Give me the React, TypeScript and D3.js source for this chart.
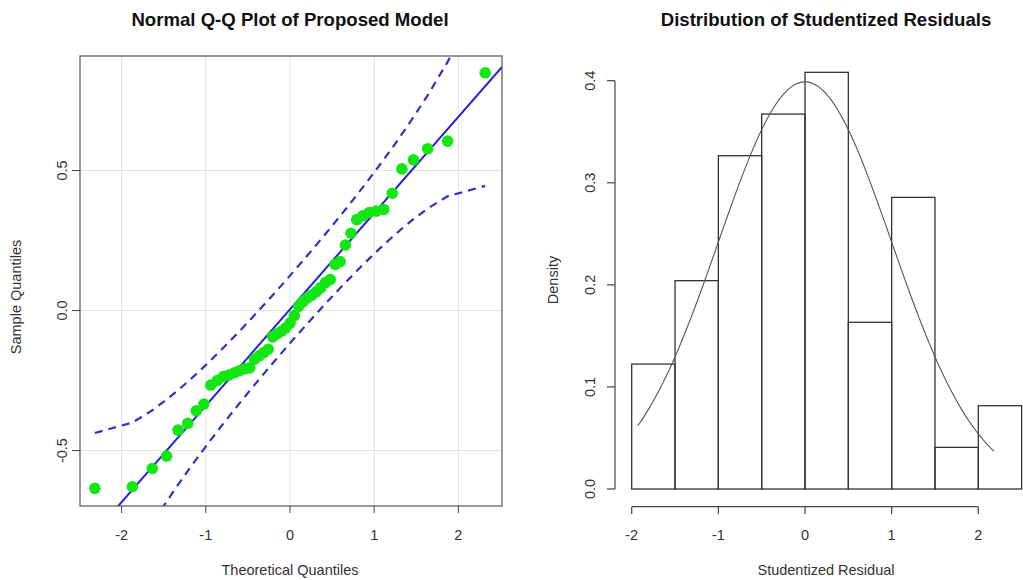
import React from "react";
import * as d3 from "d3";

// Theoretical normal quantiles (n = 49, ppoints)
const theoretical = [
  -2.318, -1.872, -1.635, -1.466, -1.329, -1.215, -1.114, -1.023, -0.941, -0.864,
  -0.792, -0.724, -0.658, -0.596, -0.536, -0.478, -0.421, -0.366, -0.312, -0.259,
  -0.206, -0.154, -0.102, -0.051, 0.0, 0.051, 0.102, 0.154, 0.206, 0.259,
  0.312, 0.366, 0.421, 0.478, 0.536, 0.596, 0.658, 0.724, 0.792, 0.864,
  0.941, 1.023, 1.114, 1.215, 1.329, 1.466, 1.635, 1.872, 2.318,
];
// Sorted sample quantiles
const sample = [
  -0.635, -0.629, -0.564, -0.52, -0.427, -0.403, -0.358, -0.334, -0.266, -0.25,
  -0.236, -0.23, -0.222, -0.214, -0.208, -0.204, -0.174, -0.162, -0.15, -0.138,
  -0.094, -0.083, -0.074, -0.062, -0.045, -0.018, 0.015, 0.032, 0.045, 0.055,
  0.067, 0.082, 0.1, 0.111, 0.165, 0.175, 0.234, 0.276, 0.325, 0.338,
  0.35, 0.355, 0.361, 0.419, 0.506, 0.538, 0.578, 0.605, 0.849,
];
const qqIntercept = 0.004;
const qqSlope = 0.344;
const qqTicksX = [-2, -1, 0, 1, 2];
const qqTicksY = [-0.5, 0.0, 0.5];

// Histogram of studentized residuals
const binEdges = [-2, -1.5, -1, -0.5, 0, 0.5, 1, 1.5, 2, 2.5];
const densities = [0.1224, 0.2041, 0.3265, 0.3673, 0.4082, 0.1633, 0.2857, 0.0408, 0.0816];
const histTicksX = [-2, -1, 0, 1, 2];
const histTicksY = [0.0, 0.1, 0.2, 0.3, 0.4];
const curveFrom = -1.93;
const curveTo = 2.18;

const dnorm = (x: number) => Math.exp(-0.5 * x * x) / Math.sqrt(2 * Math.PI);

const FONT = "'Liberation Sans', Arial, sans-serif";

export default function App() {
  // left panel
  const L = { x0: 80, x1: 502, y0: 56, y1: 506 };
  const xq = d3.scaleLinear().domain([-2.494, 2.518]).range([L.x0, L.x1]);
  const yq = d3.scaleLinear().domain([-0.698, 0.909]).range([L.y1, L.y0]);
  const n = theoretical.length;
  const zz = 1.96;
  const bands = theoretical.map((z, i) => {
    const P = (i + 1 - 0.5) / n;
    const se = (qqSlope / dnorm(z)) * Math.sqrt((P * (1 - P)) / n);
    const fit = qqIntercept + qqSlope * z;
    return { z, up: fit + zz * se, lo: fit - zz * se };
  });
  const upLine = d3.line<any>().x((d) => xq(d.z)).y((d) => yq(d.up));
  const loLine = d3.line<any>().x((d) => xq(d.z)).y((d) => yq(d.lo));
  const dxa = xq.domain()[0];
  const dxb = xq.domain()[1];

  // right panel
  const xh = d3.scaleLinear().domain([-2, 2]).range([631.7, 978.3]);
  const yh = d3.scaleLinear().domain([0, 0.4]).range([489, 80.7]);
  const curvePts = d3.range(0, 101).map((k) => {
    const x = curveFrom + ((curveTo - curveFrom) * k) / 100;
    return [x, dnorm(x)] as [number, number];
  });
  const curveLine = d3.line<[number, number]>().x((d) => xh(d[0])).y((d) => yh(d[1])).curve(d3.curveLinear);

  return (
    <svg width={1023} height={580} style={{ display: "block", position: "absolute", left: 0, top: 0 }} fontFamily={FONT}>
      <rect width={1023} height={580} fill="#fff" />
      <defs>
        <clipPath id="qqclip">
          <rect x={L.x0} y={L.y0} width={L.x1 - L.x0} height={L.y1 - L.y0} />
        </clipPath>
      </defs>
      {/* ---------- Left: Q-Q plot ---------- */}
      <text x={290} y={26} textAnchor="middle" fontWeight="bold" fontSize={18.6} fill="#111">
        Normal Q-Q Plot of Proposed Model
      </text>
      {qqTicksX.map((t) => (
        <line key={"gx" + t} x1={xq(t)} x2={xq(t)} y1={L.y0} y2={L.y1} stroke="#e0e0e0" strokeWidth={1} />
      ))}
      {qqTicksY.map((t) => (
        <line key={"gy" + t} x1={L.x0} x2={L.x1} y1={yq(t)} y2={yq(t)} stroke="#e0e0e0" strokeWidth={1} />
      ))}
      <g clipPath="url(#qqclip)">
        <line
          x1={xq(dxa)}
          y1={yq(qqIntercept + qqSlope * dxa)}
          x2={xq(dxb)}
          y2={yq(qqIntercept + qqSlope * dxb)}
          stroke="#2222dd"
          strokeWidth={2}
        />
        <path d={upLine(bands) || ""} fill="none" stroke="#3131c4" strokeWidth={2.2} strokeDasharray="8,6" />
        <path d={loLine(bands) || ""} fill="none" stroke="#3131c4" strokeWidth={2.2} strokeDasharray="8,6" />
        {theoretical.map((z, i) => (
          <circle key={"p" + i} cx={xq(z)} cy={yq(sample[i])} r={5.8} fill="#14e614" />
        ))}
      </g>
      <rect x={L.x0} y={L.y0} width={L.x1 - L.x0} height={L.y1 - L.y0} fill="none" stroke="#555" strokeWidth={1.2} />
      {qqTicksX.map((t) => (
        <g key={"tx" + t}>
          <line x1={xq(t)} x2={xq(t)} y1={L.y1} y2={L.y1 + 7} stroke="#444" />
          <text x={xq(t)} y={540} textAnchor="middle" fontSize={14.5} fill="#333">
            {t}
          </text>
        </g>
      ))}
      {qqTicksY.map((t) => (
        <g key={"ty" + t}>
          <line x1={L.x0 - 8} x2={L.x0} y1={yq(t)} y2={yq(t)} stroke="#444" />
          <text
            transform={`translate(67,${yq(t)}) rotate(-90)`}
            textAnchor="middle"
            fontSize={14.5}
            fill="#333"
          >
            {t.toFixed(1)}
          </text>
        </g>
      ))}
      <text x={290} y={575} textAnchor="middle" fontSize={14.5} fill="#333">
        Theoretical Quantiles
      </text>
      <text transform="translate(21,297) rotate(-90)" textAnchor="middle" fontSize={14.5} fill="#333">
        Sample Quantiles
      </text>

      {/* ---------- Right: histogram ---------- */}
      <text x={826} y={26} textAnchor="middle" fontWeight="bold" fontSize={18.6} fill="#111">
        Distribution of Studentized Residuals
      </text>
      {densities.map((dv, i) => (
        <rect
          key={"b" + i}
          x={xh(binEdges[i])}
          y={yh(dv)}
          width={xh(binEdges[i + 1]) - xh(binEdges[i])}
          height={yh(0) - yh(dv)}
          fill="none"
          stroke="#333"
          strokeWidth={1.3}
        />
      ))}
      <path d={curveLine(curvePts) || ""} fill="none" stroke="#555" strokeWidth={1.1} />
      <line x1={615} x2={615} y1={yh(0)} y2={yh(0.4)} stroke="#444" strokeWidth={1.2} />
      {histTicksY.map((t) => (
        <g key={"hy" + t}>
          <line x1={607} x2={615} y1={yh(t)} y2={yh(t)} stroke="#444" strokeWidth={1.2} />
          <text transform={`translate(595,${yh(t)}) rotate(-90)`} textAnchor="middle" fontSize={14.5} fill="#333">
            {t.toFixed(1)}
          </text>
        </g>
      ))}
      <line x1={xh(-2)} x2={xh(2)} y1={506.7} y2={506.7} stroke="#444" strokeWidth={1.2} />
      {histTicksX.map((t) => (
        <g key={"hx" + t}>
          <line x1={xh(t)} x2={xh(t)} y1={506.7} y2={514} stroke="#444" strokeWidth={1.2} />
          <text x={xh(t)} y={540} textAnchor="middle" fontSize={14.5} fill="#333">
            {t}
          </text>
        </g>
      ))}
      <text x={826} y={575} textAnchor="middle" fontSize={14.5} fill="#333">
        Studentized Residual
      </text>
      <text transform="translate(558,280) rotate(-90)" textAnchor="middle" fontSize={14.5} fill="#333">
        Density
      </text>
    </svg>
  );
}
